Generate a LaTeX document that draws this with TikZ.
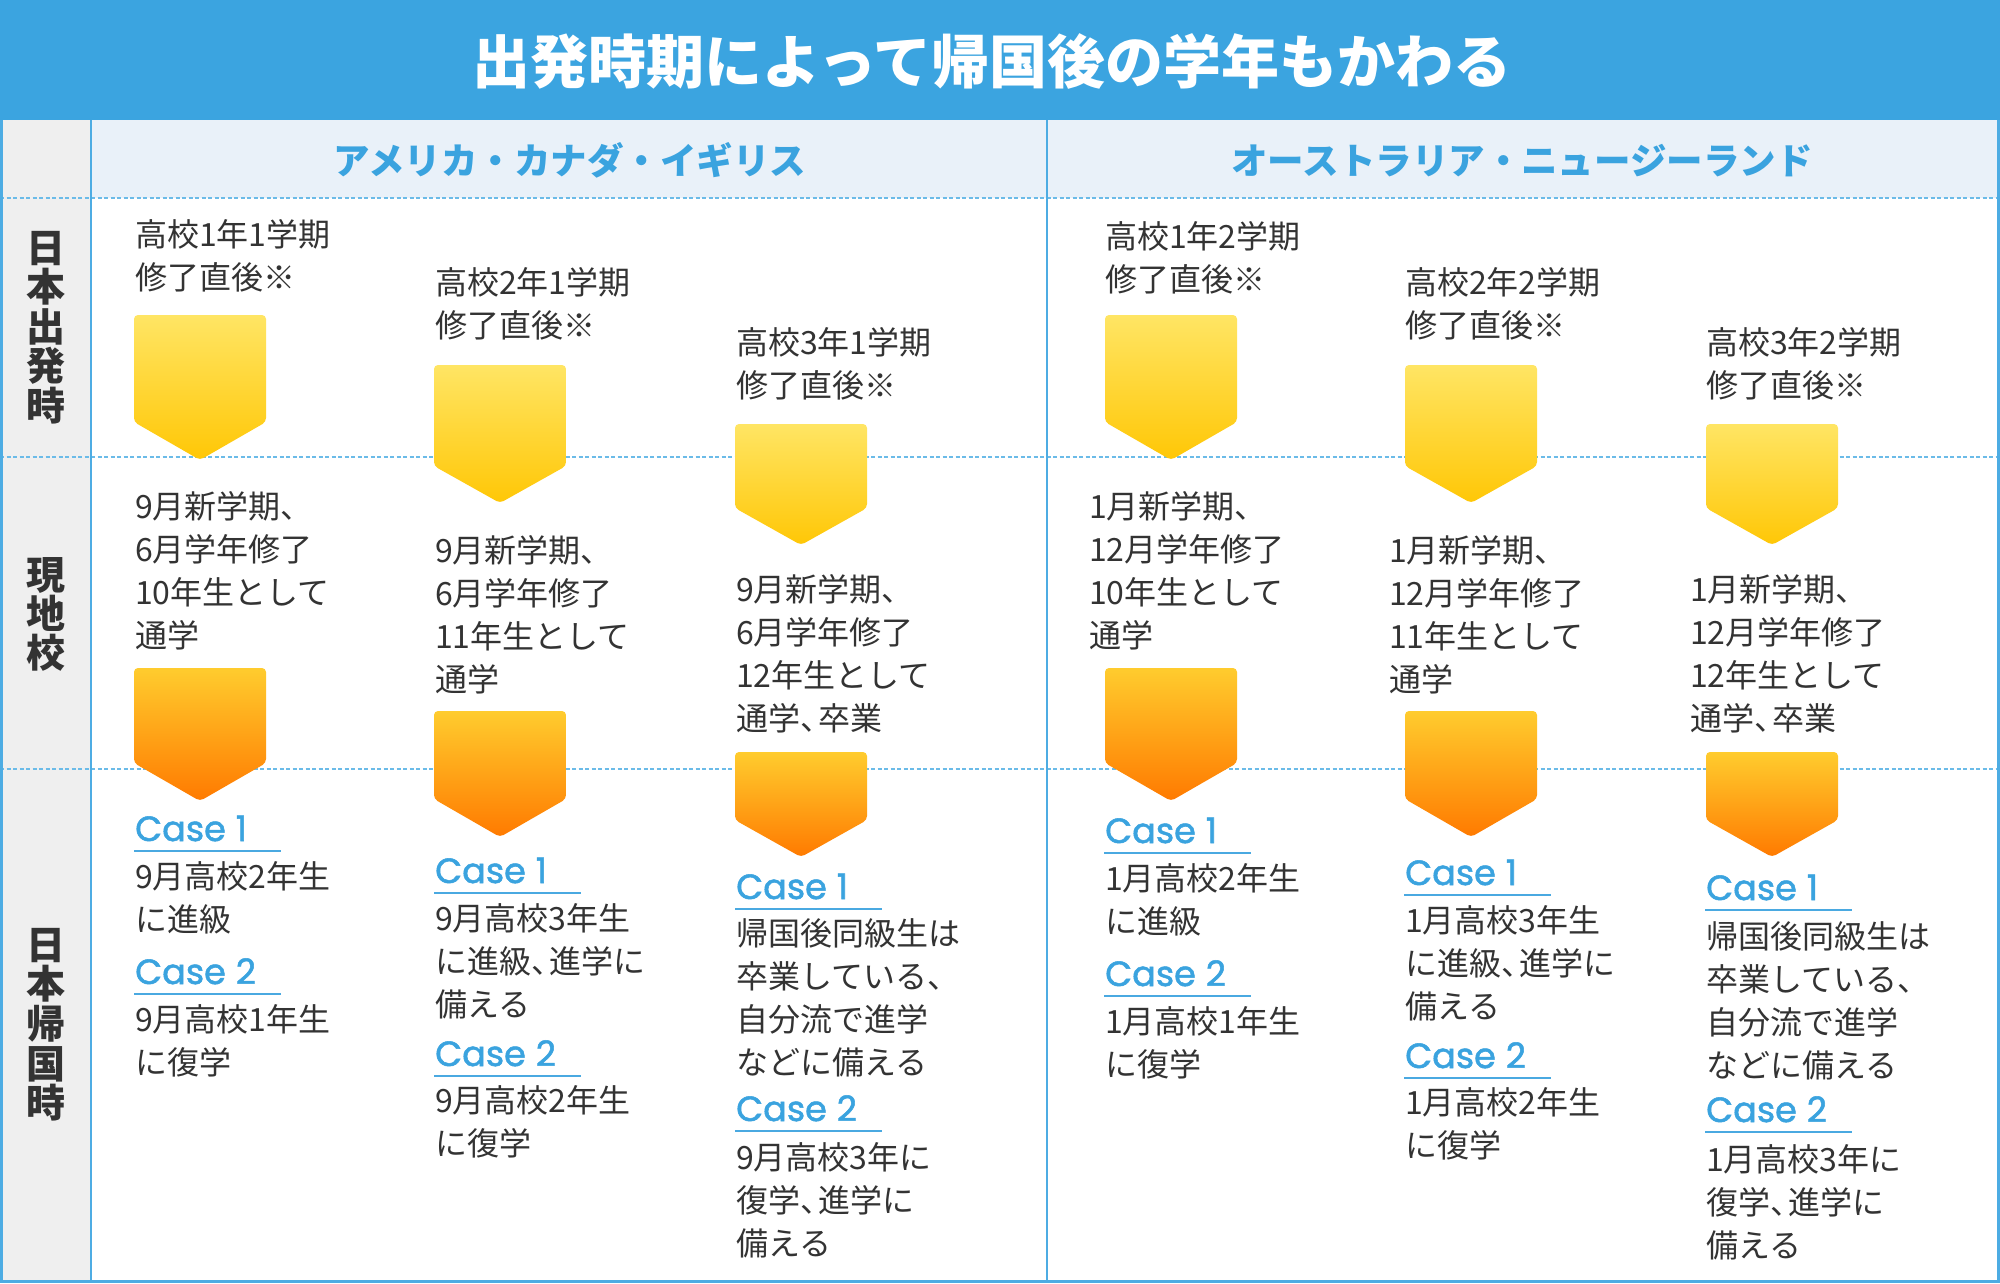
\documentclass[tikz,border=0pt]{standalone}
\usepackage{fontspec}
\setmainfont{Noto Sans CJK JP}
\newfontfamily\casefont{Poppins}[RawFeature={embolden=1.5}]
\definecolor{titleblue}{HTML}{3BA4E0}
\definecolor{blueT}{HTML}{3AA3DF}
\definecolor{blueL}{HTML}{4AA9E1}
\definecolor{borderc}{HTML}{4DACE3}
\definecolor{headbg}{HTML}{E9F1F9}
\definecolor{greybg}{HTML}{EFEFEF}
\definecolor{txtc}{HTML}{333333}
\definecolor{dotc}{HTML}{6BBBE8}
\definecolor{yT}{HTML}{FFE564}
\definecolor{yB}{HTML}{FFC706}
\definecolor{oT}{HTML}{FFCC2E}
\definecolor{oB}{HTML}{FF7A00}
\newcommand\ten{、\kern-0.42em}
\newcommand\txtblock[4]{%
  \foreach \t [count=\i] in {#4}{%
    \node[body] (#1-\i) at ({#2},{#3+(\i-1)*43}) {\t};
  }}
\newcommand\pentashape[6]{%
  \shade[top color=#5, bottom color=#6, rounded corners=4pt]
    (#1,#2) -- ({#1+132},#2) -- ({#1+132},#3) -- ({#1+66},#4) -- (#1,#3) -- cycle;}
\newcommand\caseblk[6]{%
  \node[casest] (#1) at ({#2},{#3}) {Case\hspace{10pt}#4};
  \draw[uline] (#1.base west) ++(-1,10) -- ++(147,0);
  \txtblock{#1t}{#2}{#5}{#6}}
\begin{document}
\begin{tikzpicture}[x=1pt,y=-1pt,
  body/.style={anchor=base west, inner sep=0pt, text=txtc, font=\fontsize{32}{32}\selectfont},
  lab/.style={anchor=base, inner sep=0pt, text=txtc, font=\fontsize{39}{39}\selectfont\bfseries},
  casest/.style={anchor=base west, inner sep=0pt, text=blueT, font=\casefont\fontsize{35}{35}\selectfont},
  uline/.style={draw=blueL, line width=2pt},
  dotl/.style={draw=dotc, line width=1.5pt, dash pattern=on 4pt off 2.5pt},
  vline/.style={draw=borderc, line width=2.5pt},
  head/.style={anchor=base, inner sep=0pt, text=blueT, font=\fontsize{36.5}{36.5}\selectfont\bfseries},
  ttl/.style={anchor=base, inner sep=0pt, text=white, font=\fontsize{58}{58}\selectfont\bfseries}]
\useasboundingbox (0,0) rectangle (2000,1283);
% backgrounds
\fill[titleblue] (0,0) rectangle (2000,120);
\fill[white] (0,120) rectangle (2000,1283);
\fill[greybg] (0,120) rectangle (91,1283);
\fill[headbg] (91,120) rectangle (2000,198);
% dotted row lines
\draw[dotl] (0,198) -- (2000,198);
\draw[dotl] (0,457) -- (2000,457);
\draw[dotl] (0,769) -- (2000,769);
% vertical lines and frame
\draw[vline] (91,120) -- (91,1283);
\draw[vline] (1047,120) -- (1047,1283);
\draw[draw=borderc, line width=3pt] (1.5,120) -- (1.5,1281.5) -- (1998.5,1281.5) -- (1998.5,120);
% title and headers
\node[ttl] (title) at (992,83) {出発時期によって帰国後の学年もかわる};
\node[head] (h1) at (570,174) {アメリカ・カナダ・イギリス};
\node[head] (h2) at (1522,174) {オーストラリア・ニュージーランド};
% row labels
\foreach \c [count=\i] in {日,本,出,発,時} \node[lab] (la\i) at (46,{262+(\i-1)*39.5}) {\c};
\foreach \c [count=\i] in {現,地,校} \node[lab] (lb\i) at (46,{589+(\i-1)*39}) {\c};
\foreach \c [count=\i] in {日,本,帰,国,時} \node[lab] (lc\i) at (46,{959+(\i-1)*39.7}) {\c};
% shapes left
\pentashape{134}{315}{422}{460}{yT}{yB}
\pentashape{434}{365}{466}{503}{yT}{yB}
\pentashape{735}{424}{508}{545}{yT}{yB}
\pentashape{134}{668}{763}{801}{oT}{oB}
\pentashape{434}{711}{799}{837}{oT}{oB}
\pentashape{735}{752}{820}{857}{oT}{oB}
% shapes right
\pentashape{1105}{315}{422}{460}{yT}{yB}
\pentashape{1405}{365}{466}{503}{yT}{yB}
\pentashape{1706}{424}{508}{545}{yT}{yB}
\pentashape{1105}{668}{763}{801}{oT}{oB}
\pentashape{1405}{711}{799}{837}{oT}{oB}
\pentashape{1706}{752}{820}{857}{oT}{oB}
% left texts
\txtblock{ta}{135}{246}{高校1年1学期,修了直後※}
\txtblock{tb}{435}{294}{高校2年1学期,修了直後※}
\txtblock{tc}{736}{354}{高校3年1学期,修了直後※}
\txtblock{ma}{135}{518}{9月新学期、,6月学年修了,10年生として,通学}
\txtblock{mb}{435}{562}{9月新学期、,6月学年修了,11年生として,通学}
\txtblock{mc}{736}{601}{9月新学期、,6月学年修了,12年生として,通学\ten 卒業}
\caseblk{ca1}{135}{841}{1}{888}{9月高校2年生,に進級}
\caseblk{ca2}{135}{984}{2}{1031}{9月高校1年生,に復学}
\caseblk{cb1}{435}{883}{1}{930}{9月高校3年生,に進級\ten 進学に,備える}
\caseblk{cb2}{435}{1066}{2}{1112}{9月高校2年生,に復学}
\caseblk{cc1}{736}{899}{1}{945}{帰国後同級生は,卒業している、,自分流で進学,などに備える}
\caseblk{cc2}{736}{1121}{2}{1169}{9月高校3年に,復学\ten 進学に,備える}
% right texts
\txtblock{td}{1105}{248}{高校1年2学期,修了直後※}
\txtblock{te}{1405}{294}{高校2年2学期,修了直後※}
\txtblock{tf}{1706}{354}{高校3年2学期,修了直後※}
\txtblock{md}{1089}{518}{1月新学期、,12月学年修了,10年生として,通学}
\txtblock{me}{1389}{562}{1月新学期、,12月学年修了,11年生として,通学}
\txtblock{mf}{1690}{601}{1月新学期、,12月学年修了,12年生として,通学\ten 卒業}
\caseblk{cd1}{1105}{843}{1}{890}{1月高校2年生,に進級}
\caseblk{cd2}{1105}{986}{2}{1033}{1月高校1年生,に復学}
\caseblk{ce1}{1405}{885}{1}{932}{1月高校3年生,に進級\ten 進学に,備える}
\caseblk{ce2}{1405}{1068}{2}{1114}{1月高校2年生,に復学}
\caseblk{cf1}{1706}{900}{1}{948}{帰国後同級生は,卒業している、,自分流で進学,などに備える}
\caseblk{cf2}{1706}{1122}{2}{1171}{1月高校3年に,復学\ten 進学に,備える}
\end{tikzpicture}
\end{document}
